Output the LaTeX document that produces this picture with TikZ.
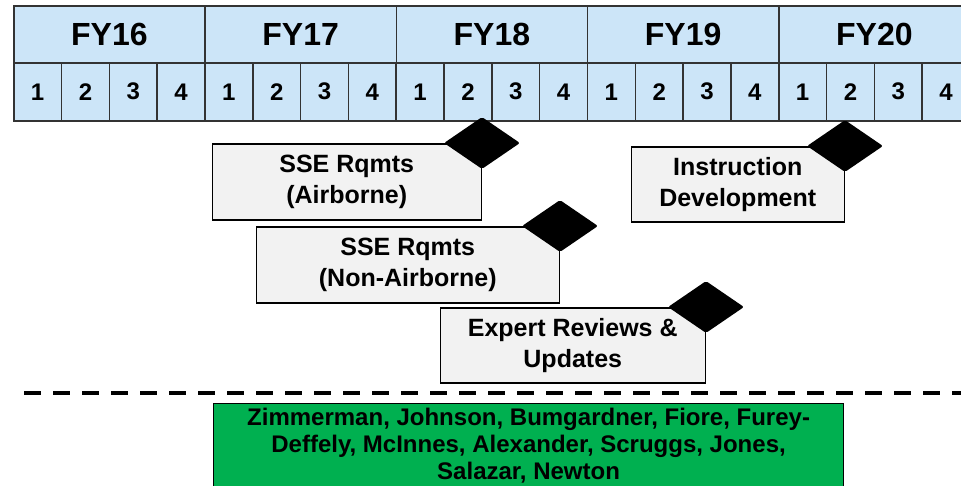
\documentclass[tikz,border=0pt]{standalone}
\usepackage{fontspec}
\setmainfont{Liberation Sans}
\usetikzlibrary{shapes.geometric,positioning}
\definecolor{hdrblue}{RGB}{204,229,248}
\definecolor{taskgray}{RGB}{242,242,242}
\definecolor{teamgreen}{RGB}{0,176,80}

\tikzset{
  fycell/.style={draw=black!80, line width=1.5pt, fill=hdrblue, anchor=north west,
    minimum width=191.25pt, minimum height=57pt, inner sep=0pt,
    font=\fontsize{32}{32}\selectfont\bfseries},
  qcell/.style={draw=black!80, line width=1.5pt, fill=hdrblue, anchor=north west,
    minimum width=47.81pt, minimum height=58pt, inner sep=0pt,
    font=\fontsize{24}{24}\selectfont\bfseries},
  taskbox/.style={draw=black, line width=1.5pt, fill=taskgray, anchor=north east,
    align=center, inner sep=0pt, minimum height=76pt,
    font=\fontsize{25}{31}\selectfont\bfseries},
  milestone/.style={diamond, fill=black, minimum width=76pt, minimum height=52pt,
    inner sep=0pt, rounded corners=2pt},
  teambox/.style={draw=black, line width=1.2pt, fill=teamgreen, anchor=north west,
    align=center, inner sep=0pt, minimum width=630pt, minimum height=84pt,
    font=\fontsize{24}{27}\selectfont\bfseries}
}

\begin{document}
\begin{tikzpicture}[x=1pt,y=-1pt]
  \useasboundingbox (0,0) rectangle (961,485);

  % fiscal years and quarters
  \foreach \yr [count=\i from 0] in {16,...,20} {
    \node[fycell] (fy\yr) at ({13+\i*191.25},5) {FY\yr};
    \foreach \q in {1,...,4}
      \node[qcell] (q\yr-\q) at ({13+\i*191.25+(\q-1)*47.81},62) {\q};
  }

  % tasks
  \node[taskbox, minimum width=269pt] (rqair) at (482,143) {SSE Rqmts\\(Airborne)};
  \node[taskbox, minimum width=303pt] (rqnon) at (560,226) {SSE Rqmts\\(Non-Airborne)};
  \node[taskbox, minimum width=265pt, minimum height=75pt] (review) at (706,307) {Expert Reviews \&\\Updates};
  \node[taskbox, minimum width=213pt, minimum height=75pt] (instr) at (845,146) {Instruction\\Development};

  % milestones
  \node[milestone] (msair) at (rqair.north east) {};
  \node[milestone] (msnon) at (rqnon.north east) {};
  \node[milestone] (msreview) at (review.north east) {};
  \node[milestone] (msinstr) at (instr.north east) {};

  % separator
  \coordinate (sepl) at (24,393);
  \coordinate (sepr) at (961,393);
  \draw[line width=4pt, dash pattern=on 17pt off 12pt] (sepl) -- (sepr);

  % team
  \node[teambox] (team) at (213,403) {Zimmerman, Johnson, Bumgardner, Fiore, Furey-\\Deffely, McInnes, Alexander, Scruggs, Jones,\\Salazar, Newton};
\end{tikzpicture}
\end{document}
